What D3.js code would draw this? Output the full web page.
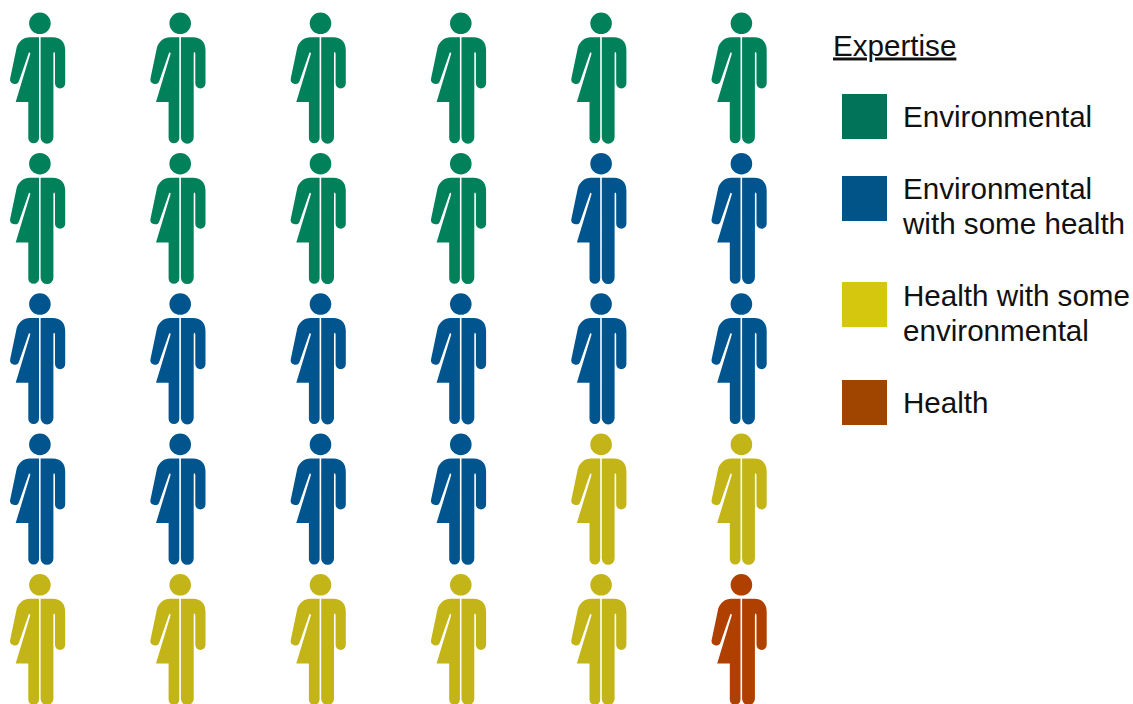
<!DOCTYPE html>
<html><head><meta charset="utf-8">
<style>html,body{margin:0;padding:0;background:#fff}svg{display:block}text{font-family:"Liberation Sans",Arial,sans-serif;fill:#111}</style>
<script src="https://cdn.jsdelivr.net/npm/d3@7"></script></head><body>
<svg id="c" width="1133" height="704"></svg>
<script>
const categories = ["Environmental","Environmental with some health","Health with some environmental","Health"];
const counts = [10,12,7,1];
const iconColors = ["#00815a","#00558f","#c3b417","#b04000"];
const swatchColors = ["#007358","#005488","#d5c70e","#a04500"];
const legendLines = [["Environmental"],["Environmental","with some health"],["Health with some","environmental"],["Health"]];
const legendTitle = "Expertise";
const columns = d3.range(6), rows = d3.range(5);

const svg=d3.select("#c");
const x=d3.scalePoint().domain(columns).range([39.7,741.2]);
const y=d3.scalePoint().domain(rows).range([5.3,566.8]);
const color=d3.scaleOrdinal().domain(categories).range(iconColors);
const swatch=d3.scaleOrdinal().domain(categories).range(swatchColors);
const people=categories.flatMap((c,i)=>d3.range(counts[i]).map(()=>c));

// icon glyph in local units (origin at top centre of the figure)
const glyph=(()=>{const p=d3.path();
  p.moveTo(11,18);p.arc(0.2,18,10.8,0,2*Math.PI);p.closePath();
  // right half
  p.moveTo(0.9,32);p.lineTo(13,32);
  p.bezierCurveTo(21,32,25.5,37,25.5,45);
  p.lineTo(25.5,78);p.arc(20.4,78,5.1,0,Math.PI);
  p.lineTo(15.3,48.5);p.quadraticCurveTo(15.1,46.8,14.4,46.8);p.quadraticCurveTo(13.7,46.8,13.7,48.5);
  p.lineTo(13.7,132);p.arc(7.3,132,6.4,0,Math.PI);
  p.closePath();
  // left half: torso and skirt
  p.moveTo(-0.7,32);p.lineTo(-0.7,132.7);p.arc(-6.05,132.7,5.35,0,Math.PI);
  p.lineTo(-11.4,96.7);p.lineTo(-24,96.7);p.lineTo(-9.4,48.5);
  p.quadraticCurveTo(-9.5,46.7,-10.8,47.3);
  p.lineTo(-20.6,75.5);p.arc(-25,74,4.6,0.33,Math.PI+0.22);
  p.lineTo(-23,42);p.bezierCurveTo(-21,36,-16,32,-10,32);
  p.closePath();
  return p.toString();})();

svg.append("g").selectAll("path").data(people).join("path")
  .attr("d",glyph)
  .attr("fill",d=>color(d))
  .attr("transform",(d,i)=>`translate(${x(i%6)},${y(Math.floor(i/6))})`);

// legend
const legend=svg.append("g");
legend.append("text").attr("x",833).attr("y",55.5).attr("font-size",29.6).text(legendTitle).attr("text-decoration","underline");
const swY=d3.scaleOrdinal().domain(categories).range([94,176,282,380]);
const textY=d3.scaleOrdinal().domain(categories).range([[126.5],[198.5,233.5],[305.5,340.5],[412.5]]);
legend.selectAll("rect").data(categories).join("rect")
  .attr("x",842).attr("y",d=>swY(d)).attr("width",45).attr("height",45)
  .attr("fill",d=>swatch(d));
categories.forEach((c,i)=>{
  legendLines[i].forEach((ln,j)=>{
    legend.append("text").attr("x",903).attr("y",textY(c)[j]).attr("font-size",29.6).text(ln);
  });
});
</script></body></html>
